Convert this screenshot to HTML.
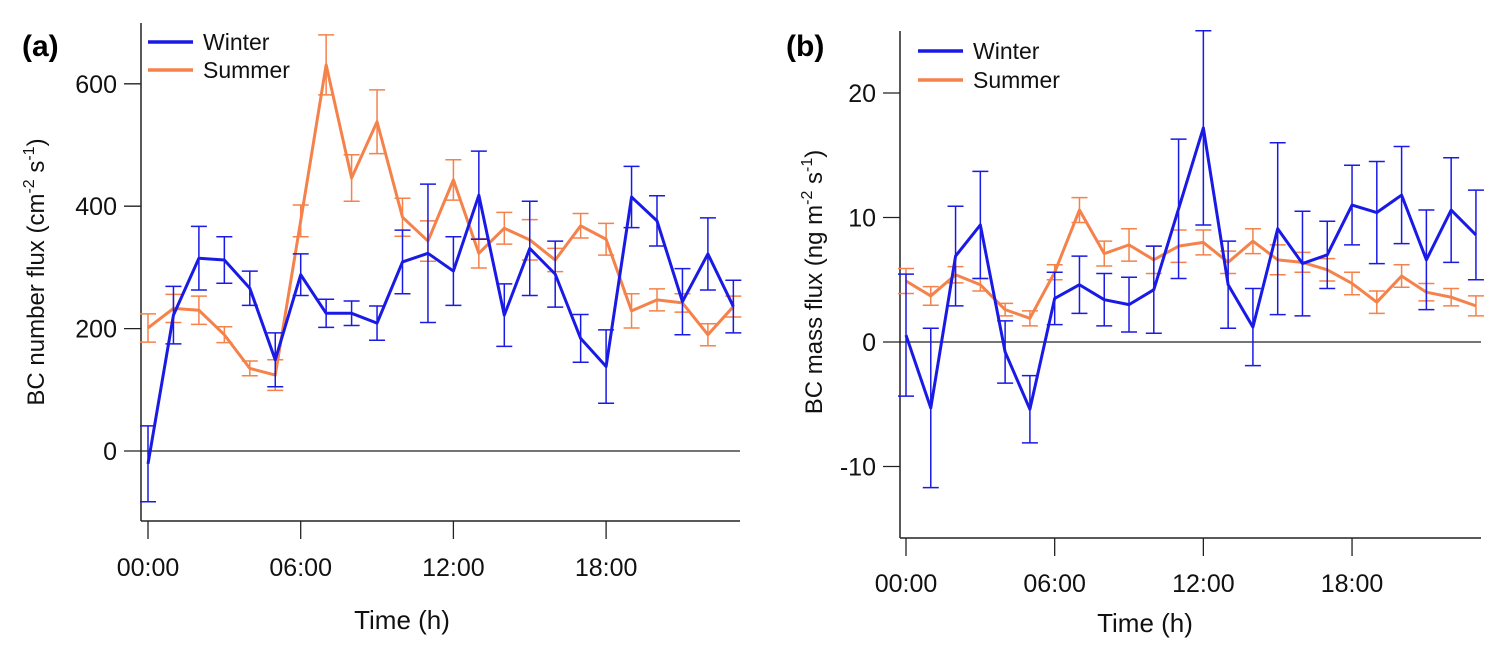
<!DOCTYPE html>
<html><head><meta charset="utf-8"><style>
body{margin:0;background:#fff}
svg{display:block;font-family:"Liberation Sans",Arial,sans-serif}
</style></head><body>
<svg id="c" width="1505" height="646"></svg>
<script>
const hours=[0,1,2,3,4,5,6,7,8,9,10,11,12,13,14,15,16,17,18,19,20,21,22,23];
const aWinter=[-21,222,315,312,266,149,288,225,225,209,309,323,294,418,222,331,289,184,138,415,376,244,322,236];
const aWinterErr=[62,47,52,38,28,44,34,23,20,28,52,113,56,72,51,77,54,39,60,50,41,54,59,43];
const aSummer=[201,233,230,190,135,124,376,631,446,538,382,343,443,323,364,345,312,368,346,229,247,242,190,236];
const aSummerErr=[23,23,23,13,12,25,26,49,38,52,31,33,33,24,26,33,19,20,26,28,18,15,18,17];
const bWinter=[0.55,-5.3,6.9,9.4,-0.8,-5.4,3.5,4.6,3.4,3.0,4.2,10.7,17.2,4.6,1.2,9.1,6.3,7.0,11.0,10.4,11.8,6.6,10.6,8.6];
const bWinterErr=[4.9,6.4,4,4.3,2.5,2.7,2.1,2.3,2.1,2.2,3.5,5.6,7.8,3.5,3.1,6.9,4.2,2.7,3.2,4.1,3.9,4,4.2,3.6];
const bSummer=[4.9,3.7,5.4,4.6,2.6,1.9,5.6,10.6,7.1,7.8,6.6,7.7,8.0,6.4,8.1,6.6,6.4,5.8,4.7,3.2,5.3,4.0,3.6,2.9];
const bSummerErr=[1,0.75,0.65,0.5,0.5,0.6,0.6,1,1,1.3,1.1,1.3,1,0.9,1,1.2,0.8,0.9,0.9,0.9,0.9,0.7,0.7,0.8];
const aYTicks=[0,200,400,600];
const bYTicks=[-10,0,10,20];
const xTicks=[0,6,12,18];
const xTickLabels=["00:00","06:00","12:00","18:00"];
const NS="http://www.w3.org/2000/svg";
const svg=document.getElementById('c');
function mk(tag,attrs,parent,name,text){const e=document.createElementNS(NS,tag);for(const k in attrs)e.setAttribute(k,attrs[k]);


if(text!==undefined)e.textContent=text;(parent||svg).appendChild(e);return e;}
function panel(cfg){
 const g=mk('g',{},svg,cfg.id);
 const X=h=>cfg.x0+h*cfg.xs, Y=v=>cfg.y0-v*cfg.ys;
 mk('line',{x1:cfg.left,y1:cfg.top,x2:cfg.left,y2:cfg.bottom,stroke:'#222','stroke-width':1.5},g,'y-axis');
 mk('line',{x1:cfg.left,y1:cfg.bottom,x2:cfg.right,y2:cfg.bottom,stroke:'#222','stroke-width':1.5},g,'x-axis');
 mk('line',{x1:cfg.left,y1:Y(0),x2:cfg.right,y2:Y(0),stroke:'#222','stroke-width':1.3},g,'zero-line');
 cfg.yTicks.forEach(t=>{mk('line',{x1:cfg.left-17,y1:Y(t),x2:cfg.left,y2:Y(t),stroke:'#222','stroke-width':1.3},g,'y-tick');
  mk('text',{x:cfg.left-24,y:Y(t)+9,'text-anchor':'end','font-size':25,fill:'#111'},g,'y-tick-label',String(t));});
 xTicks.forEach((t,i)=>{mk('line',{x1:X(t),y1:cfg.bottom,x2:X(t),y2:cfg.bottom+18,stroke:'#222','stroke-width':1.3},g,'x-tick');
  mk('text',{x:X(t),y:cfg.lblY,'text-anchor':'middle','font-size':25,fill:'#111'},g,'x-tick-label',xTickLabels[i]);});
 mk('text',{x:cfg.titleX,y:cfg.titleY,'text-anchor':'middle','font-size':26,fill:'#111'},g,'x-axis-title','Time (h)');
 const yt=mk('text',{transform:`translate(${cfg.ytX},${cfg.ytY}) rotate(-90)`,'text-anchor':'middle','font-size':24,fill:'#111'},g,'y-axis-title');
 yt.innerHTML=cfg.ytitle;
 mk('text',{x:cfg.lblX,y:56,'font-size':30,'font-weight':'bold',fill:'#000'},g,'panel-label',cfg.lbl);
 [[cfg.s,cfg.se,'#f4824a','summer'],[cfg.w,cfg.we,'#1a1ae6','winter']].forEach(([vals,errs,col,nm])=>{
  hours.forEach((h,i)=>{const x=X(h),y1=Y(vals[i]+errs[i]),y2=Y(vals[i]-errs[i]);
   mk('path',{d:`M${x},${y1}V${y2}M${x-8},${y1}H${x+8}M${x-8},${y2}H${x+8}`,stroke:col,'stroke-width':1.5,fill:'none'},g,nm+'-error-bar');});
  mk('polyline',{points:hours.map((h,i)=>X(h)+','+Y(vals[i])).join(' '),stroke:col,'stroke-width':3,fill:'none','stroke-linejoin':'round'},g,nm+'-line');
 });
 [['Winter','#1a1ae6',cfg.lgY1],['Summer','#f4824a',cfg.lgY2]].forEach(([t,c,y])=>{
  mk('line',{x1:cfg.lgX,y1:y,x2:cfg.lgX+45,y2:y,stroke:c,'stroke-width':3.5},g,'legend-swatch-'+t.toLowerCase());
  mk('text',{x:cfg.lgX+55,y:y+8,'font-size':23,fill:'#111'},g,'legend-entry-'+t.toLowerCase(),t);});
}
panel({id:'panel-a',x0:148,xs:25.45,y0:451,ys:0.612,left:141,right:740,top:23,bottom:521,yTicks:aYTicks,lblY:576,titleY:629,
 w:aWinter,we:aWinterErr,s:aSummer,se:aSummerErr,titleX:402,ytX:44,ytY:272,lbl:'(a)',lblX:22,lgX:148,lgY1:42,lgY2:70,
 ytitle:'BC number flux (cm<tspan dy="-10" font-size="16">-2</tspan><tspan dy="10"> s</tspan><tspan dy="-10" font-size="16">-1</tspan><tspan dy="10">)</tspan>'});
panel({id:'panel-b',x0:906,xs:24.78,y0:342,ys:12.45,left:900,right:1481,top:31,bottom:538,yTicks:bYTicks,lblY:592,titleY:632,
 w:bWinter,we:bWinterErr,s:bSummer,se:bSummerErr,titleX:1145,ytX:822,ytY:282,lbl:'(b)',lblX:786,lgX:918,lgY1:51,lgY2:80,
 ytitle:'BC mass flux (ng m<tspan dy="-10" font-size="16">-2</tspan><tspan dy="10"> s</tspan><tspan dy="-10" font-size="16">-1</tspan><tspan dy="10">)</tspan>'});
</script>
</body></html>
